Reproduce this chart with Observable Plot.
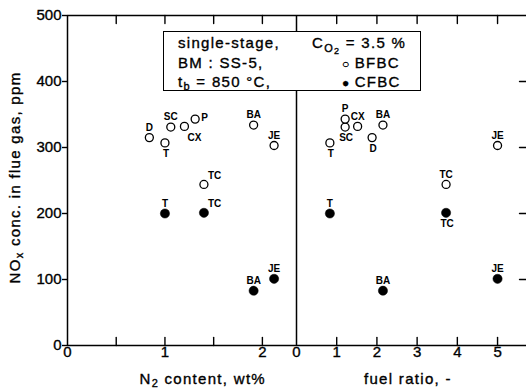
<!DOCTYPE html>
<html><head><meta charset="utf-8">
<script src="https://cdn.jsdelivr.net/npm/d3@7"></script>
<script src="https://cdn.jsdelivr.net/npm/@observablehq/plot@0.6"></script>
<style>
body{margin:0;background:#fff;font-family:"Liberation Sans",Arial,sans-serif;color:#000}
#wrap{position:relative;width:526px;height:391px;overflow:hidden}
#wrap svg{position:absolute;top:0;background:transparent}
#wrap svg [aria-label$="tick label"] text{stroke:#000;stroke-width:0.35px}
.lab{position:absolute;font-size:15px;letter-spacing:1.3px;white-space:nowrap;line-height:1;-webkit-text-stroke:0.35px #000}
.lab sub{font-size:11px;vertical-align:-3px;line-height:0}
#legend{position:absolute;left:163px;top:31px;width:256px;height:58px;border:1.3px solid #000;background:#fff;font-size:15px;letter-spacing:1.3px;-webkit-text-stroke:0.35px #000}
#legend div{position:absolute;white-space:nowrap;line-height:1}
</style></head><body>
<div id="wrap"></div>
<script>
// ---- data ----
const coals = ["D", "T", "SC", "CX", "P", "BA", "JE", "TC"];
const n2Content = [0.84, 1.00, 1.06, 1.20, 1.31, 1.91, 2.12, 1.40];   // wt%
const fuelRatio = [1.88, 0.83, 1.21, 1.52, 1.21, 2.15, 5.00, 3.72];   // -
const noxBFBC = [315, 307, 331, 332, 343, 334, 303, 244];             // ppm
const cfbcCoals = ["T", "TC", "BA", "JE"];
const noxCFBC = [200, 201, 83, 101];                                    // ppm
const yTicks = [0, 100, 200, 300, 400, 500];
const n2Ticks = [0, 1, 2];
const n2MinorTicks = [0.5, 1, 1.5, 2];
const frTicks = [0, 1, 2, 3, 4, 5];
const frMinorTicks = [1, 2, 3, 4, 5];

// label placement around each point (annotation layout)
const labelSide = {
  n2: {bfbc: {D:"t", T:"b", SC:"t", CX:"br", P:"r", BA:"t", JE:"t", TC:"tr"},
       cfbc: {T:"t", TC:"tr", BA:"t", JE:"t"}},
  fr: {bfbc: {D:"b", T:"b", SC:"b", CX:"t", P:"t", BA:"t", JE:"t", TC:"t"},
       cfbc: {T:"t", TC:"b", BA:"t", JE:"t"}}
};
const sideStyle = {
  t:  {dx: 0, dy: -10, textAnchor: "middle"},
  b:  {dx: 1, dy: 11, textAnchor: "middle"},
  r:  {dx: 6, dy: -1, textAnchor: "start"},
  tr: {dx: 4, dy: -9, textAnchor: "start"},
  br: {dx: 3, dy: 11, textAnchor: "start"}
};

const xOf = {n2: n2Content, fr: fuelRatio};
function rows(key) {
  const b = coals.map((c, i) => ({coal: c, x: xOf[key][i], nox: noxBFBC[i], s: "bfbc"}));
  const f = cfbcCoals.map((c, i) => {
    const j = coals.indexOf(c);
    return {coal: c, x: xOf[key][j], nox: noxCFBC[i], s: "cfbc"};
  });
  return [...b, ...f].map(d => ({...d, side: labelSide[key][d.s][d.coal]}));
}

const tickShape = {draw(ctx, l) { ctx.moveTo(0, 0); ctx.lineTo(0, -l); }};
const H = 391, MT = 15, MB = 46;
const font = {fontSize: 15, fontFamily: "Liberation Sans, Arial, sans-serif"};

function labelMarks(data) {
  return Object.entries(sideStyle).map(([k, st]) =>
    Plot.text(data.filter(d => d.side === k), {
      x: "x", y: "nox", text: "coal", ...st,
      fontSize: 10, fontWeight: "bold", fill: "black",
      fontFamily: "Liberation Sans, Arial, sans-serif"
    }));
}

function pointMarks(data) {
  return [
    Plot.dot(data.filter(d => d.s === "bfbc"), {x: "x", y: "nox", r: 4, stroke: "black", strokeWidth: 1.3, fill: "white"}),
    Plot.dot(data.filter(d => d.s === "cfbc"), {x: "x", y: "nox", r: 4.6, fill: "black", stroke: "black", strokeWidth: 0.5})
  ];
}

const wrap = document.getElementById("wrap");

// ---- left panel: N2 content ----
const leftData = rows("n2");
const left = Plot.plot({
  width: 296, height: H, marginLeft: 67, marginRight: 0, marginTop: MT, marginBottom: MB,
  style: {background: "transparent", overflow: "visible"},
  x: {domain: [0, 2.35], label: null},
  y: {domain: [0, 500], label: null},
  marks: [
    Plot.axisY(yTicks, {tickSize: 5, tickPadding: 1, strokeWidth: 1.4, label: null, ...font, letterSpacing: 1}),
    Plot.axisX(n2Ticks, {tickSize: 0, tickPadding: 1, label: null, ...font}),
    Plot.ruleX([0], {stroke: "black", strokeWidth: 1.5}),
    Plot.ruleY([0], {stroke: "black", strokeWidth: 1.5}),
    Plot.ruleY([500], {stroke: "black", strokeWidth: 1.5}),
    Plot.vector(n2MinorTicks, {x: d => d, y: () => 0, length: 8, rotate: 0, anchor: "start", shape: tickShape, stroke: "black", strokeWidth: 1.4}),
    Plot.vector(n2MinorTicks, {x: d => d, y: () => 500, length: 8, rotate: 180, anchor: "start", shape: tickShape, stroke: "black", strokeWidth: 1.4}),
    ...pointMarks(leftData),
    ...labelMarks(leftData)
  ]
});
left.style.left = "0px";
wrap.appendChild(left);

// ---- right panel: fuel ratio ----
const rightData = rows("fr");
const right = Plot.plot({
  width: 231, height: H, marginLeft: 1, marginRight: 0, marginTop: MT, marginBottom: MB,
  style: {background: "transparent", overflow: "visible"},
  x: {domain: [0, 5.72], label: null},
  y: {domain: [0, 500], axis: null, label: null},
  marks: [
    Plot.axisX(frTicks, {tickSize: 0, tickPadding: 1, label: null, ...font}),
    Plot.ruleX([0], {stroke: "black", strokeWidth: 1.5}),
    Plot.ruleY([0], {stroke: "black", strokeWidth: 1.5}),
    Plot.ruleY([500], {stroke: "black", strokeWidth: 1.5}),
    Plot.vector(frMinorTicks, {x: d => d, y: () => 0, length: 8, rotate: 0, anchor: "start", shape: tickShape, stroke: "black", strokeWidth: 1.4}),
    Plot.vector(frMinorTicks, {x: d => d, y: () => 500, length: 8, rotate: 180, anchor: "start", shape: tickShape, stroke: "black", strokeWidth: 1.4}),
    Plot.vector(yTicks.slice(1, 5), {x: () => 5.72, y: d => d, length: 7, rotate: 270, anchor: "start", shape: tickShape, stroke: "black", strokeWidth: 1.4}),
    ...pointMarks(rightData),
    ...labelMarks(rightData)
  ]
});
right.style.left = "295px";
wrap.appendChild(right);

// ---- axis titles and legend (text with subscripts) ----
wrap.insertAdjacentHTML("beforeend", `
  <div class="lab" id="ytitle">NO<sub>x</sub> conc. in flue gas, ppm</div>
  <div class="lab" id="xtitle1">N<sub>2</sub> content, wt%</div>
  <div class="lab" id="xtitle2">fuel ratio, -</div>
  <div id="legend">
    <div style="left:14px;top:3px">single-stage,</div>
    <div style="left:14px;top:23px">BM : SS-5,</div>
    <div style="left:14px;top:42px">t<sub style="font-size:11px;vertical-align:-3px;line-height:0">b</sub> = 850 °C,</div>
    <div style="left:148px;top:3px">C<sub style="font-size:11px;vertical-align:-4px;line-height:0">O<sub style="font-size:9px;vertical-align:-2px">2</sub></sub> = 3.5 %</div>
    <div style="left:178px;top:23px"><span style="font-size:12px;letter-spacing:0">○</span> BFBC</div>
    <div style="left:178px;top:42px"><span style="font-size:12px;letter-spacing:0">●</span> CFBC</div>
  </div>`);
function place(id, cx, cy, rot) {
  const el = document.getElementById(id);
  const w = el.offsetWidth, h = el.offsetHeight;
  el.style.left = (cx - w / 2) + "px";
  el.style.top = (cy - h / 2) + "px";
  if (rot) el.style.transform = `rotate(${rot}deg)`;
}
place("ytitle", 15, 177, -90);
place("xtitle1", 203, 378);
place("xtitle2", 408, 378);
</script>
</body></html>
